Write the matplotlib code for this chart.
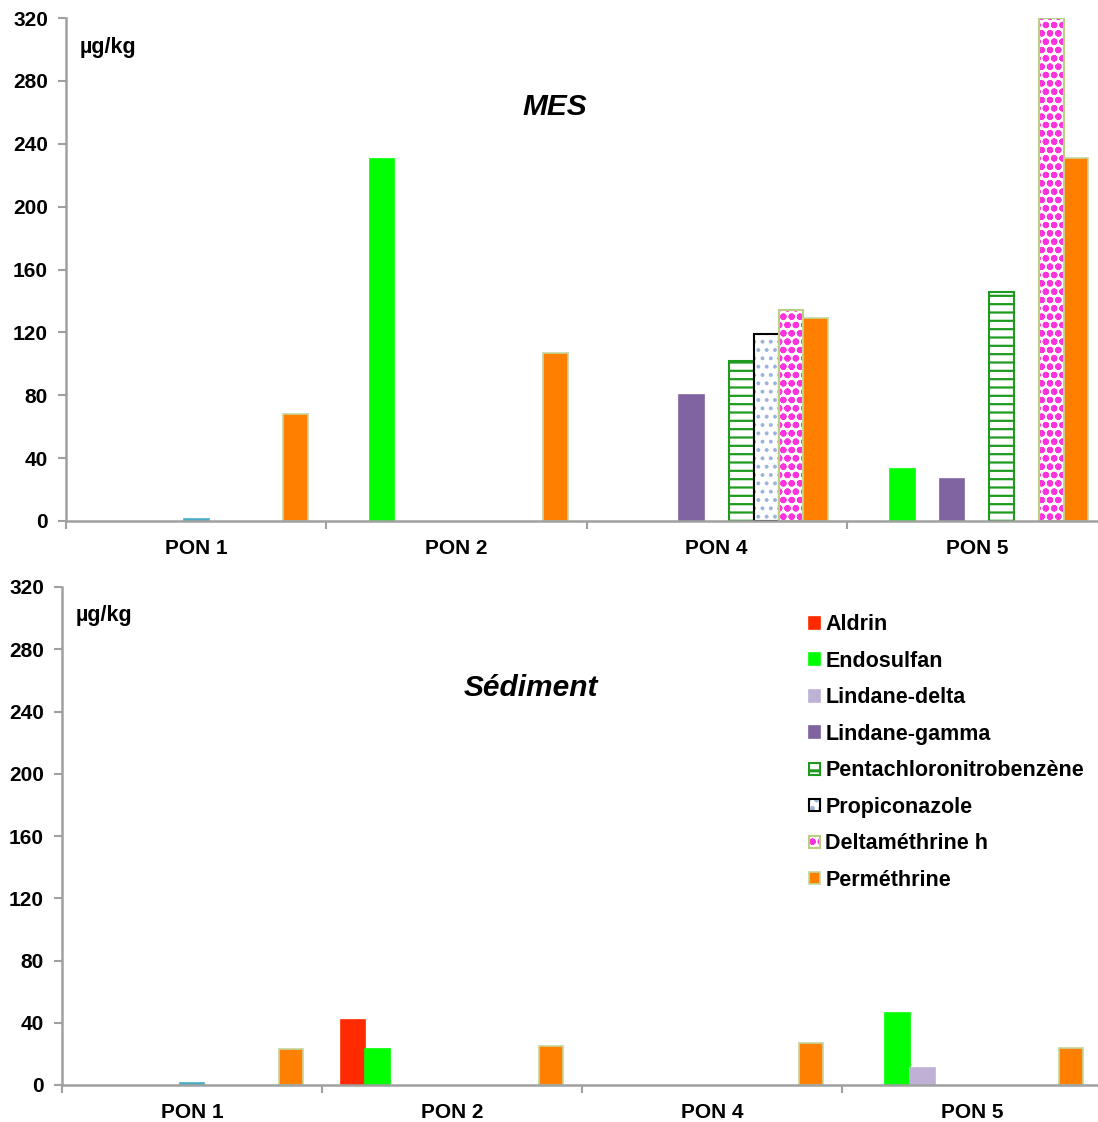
import matplotlib
matplotlib.use("Agg")
import matplotlib.pyplot as plt
import numpy as np
from matplotlib.legend_handler import HandlerTuple

plt.rcParams['font.family'] = ['Liberation Sans', 'DejaVu Sans']
plt.rcParams['font.weight'] = 'bold'

sites = ['PON 1', 'PON 2', 'PON 4', 'PON 5']
yticks = [0, 40, 80, 120, 160, 200, 240, 280, 320]

# one entry per compound, in bar order inside each site group
names = ['Aldrin', 'Endosulfan', 'Lindane-delta', 'Lindane-gamma', 'HCH-alpha',
         'Pentachloronitrobenzène', 'Propiconazole', 'Deltaméthrine h', 'Perméthrine']

# MES (µg/kg)
mes_aldrin = [0, 0, 0, 0]
mes_endosulfan = [0, 230, 0, 33]
mes_lindane_delta = [0, 0, 0, 0]
mes_lindane_gamma = [0, 0, 80, 27]
mes_hch_alpha = [1, 0, 0, 0]
mes_pcnb = [0, 0, 102, 146]
mes_propiconazole = [0, 0, 119, 0]
mes_deltamethrine = [0, 0, 134, 320]
mes_permethrine = [68, 107, 129, 231]

# Sédiment (µg/kg)
sed_aldrin = [0, 42, 0, 0]
sed_endosulfan = [0, 23, 0, 46]
sed_lindane_delta = [0, 0, 0, 11]
sed_lindane_gamma = [0, 0, 0, 0]
sed_hch_alpha = [1, 0, 0, 0]
sed_pcnb = [0, 0, 0, 0]
sed_propiconazole = [0, 0, 0, 0]
sed_deltamethrine = [0, 0, 0, 0]
sed_permethrine = [23, 25, 27, 24]

mes = [mes_aldrin, mes_endosulfan, mes_lindane_delta, mes_lindane_gamma, mes_hch_alpha,
       mes_pcnb, mes_propiconazole, mes_deltamethrine, mes_permethrine]
sed = [sed_aldrin, sed_endosulfan, sed_lindane_delta, sed_lindane_gamma, sed_hch_alpha,
       sed_pcnb, sed_propiconazole, sed_deltamethrine, sed_permethrine]

# face, hatch colour, hatch, edge colour
styles = [
    ('#FF2A00', None, None, '#FF2A00'),
    ('#00FF00', None, None, '#00FF00'),
    ('#BFB1D5', None, None, '#BFB1D5'),
    ('#8064A2', None, None, '#8064A2'),
    ('#4BACC6', None, None, '#4BACC6'),
    ('white', '#1E9A1E', '--', '#1E9A1E'),
    ('white', '#9DB3D8', '..', 'black'),
    ('white', '#FF33DD', 'oo', '#B8CF84'),
    ('#FF8000', None, None, '#C3D69B'),
]

grey = '#A0A0A0'
n = len(names)
w = 1.0 / (n + 1.5)
x = np.arange(len(sites))


def draw(ax, data, title, legend=False):
    handles = []
    for k, (vals, (face, hcol, hatch, edge)) in enumerate(zip(data, styles)):
        v = np.array(vals, dtype=float)
        v[v <= 0] = np.nan
        left = x - 0.5 + 0.75 * w + k * w
        if hatch:
            plt.rcParams['hatch.linewidth'] = 2.2 if hatch == 'oo' else 1.6
            b1 = ax.bar(left, v, w, align='edge', color=face, edgecolor=hcol,
                        hatch=hatch, linewidth=0)
            b2 = ax.bar(left, v, w, align='edge', fill=False, edgecolor=edge,
                        linewidth=1.5)
            handles.append((b1, b2))
        else:
            b = ax.bar(left, v, w, align='edge', color=face, edgecolor=edge,
                       linewidth=1.2)
            handles.append(b)

    ax.set_xlim(-0.5, len(sites) - 0.5)
    ax.set_ylim(0, 320)
    ax.set_yticks(yticks)
    ax.set_yticklabels([str(t) for t in yticks], fontsize=15, fontweight='bold')
    ax.set_xticks(np.arange(len(sites) + 1) - 0.5)
    ax.set_xticklabels([])
    ax.set_xticks(x, minor=True)
    ax.set_xticklabels(sites, minor=True, fontsize=15, fontweight='bold')
    ax.tick_params(axis='x', which='minor', length=0, pad=13)
    ax.tick_params(axis='x', which='major', length=6, color=grey, width=1.5)
    ax.tick_params(axis='y', length=6, color=grey, width=1.5, pad=7)
    for s in ['top', 'right']:
        ax.spines[s].set_visible(False)
    for s in ['left', 'bottom']:
        ax.spines[s].set_color(grey)
        ax.spines[s].set_linewidth(1.8)
    ax.text(0.013, 0.942, 'µg/kg', transform=ax.transAxes, fontsize=15.5,
            fontweight='bold', va='center', ha='left')
    ax.text(title[1], title[2], title[0], transform=ax.transAxes, fontsize=21.5,
            fontweight='bold', fontstyle='italic', ha='center', va='center')
    if legend:
        keep = [i for i in range(n) if names[i] != 'HCH-alpha']
        ax.legend([handles[i] for i in keep], [names[i] for i in keep],
                  handler_map={tuple: HandlerTuple(ndivide=1)},
                  loc='upper left', bbox_to_anchor=(0.727, 0.462),
                  bbox_transform=fig.transFigure, frameon=False,
                  prop={'size': 15.5, 'weight': 'bold'},
                  handlelength=0.5, handleheight=0.5, handletextpad=0.25,
                  labelspacing=0.72, borderpad=0)


fig = plt.figure(figsize=(10.98, 11.22), dpi=100)
W, H = 1098.0, 1122.0
ax1 = fig.add_axes([66 / W, 1 - 521 / H, 1041 / W, 503 / H])
ax2 = fig.add_axes([62 / W, 1 - 1085 / H, 1040 / W, 498 / H])

draw(ax1, mes, ('MES', 0.47, 0.823))
draw(ax2, sed, ('Sédiment', 0.451, 0.797), legend=True)

fig.savefig('out.png', dpi=100)
